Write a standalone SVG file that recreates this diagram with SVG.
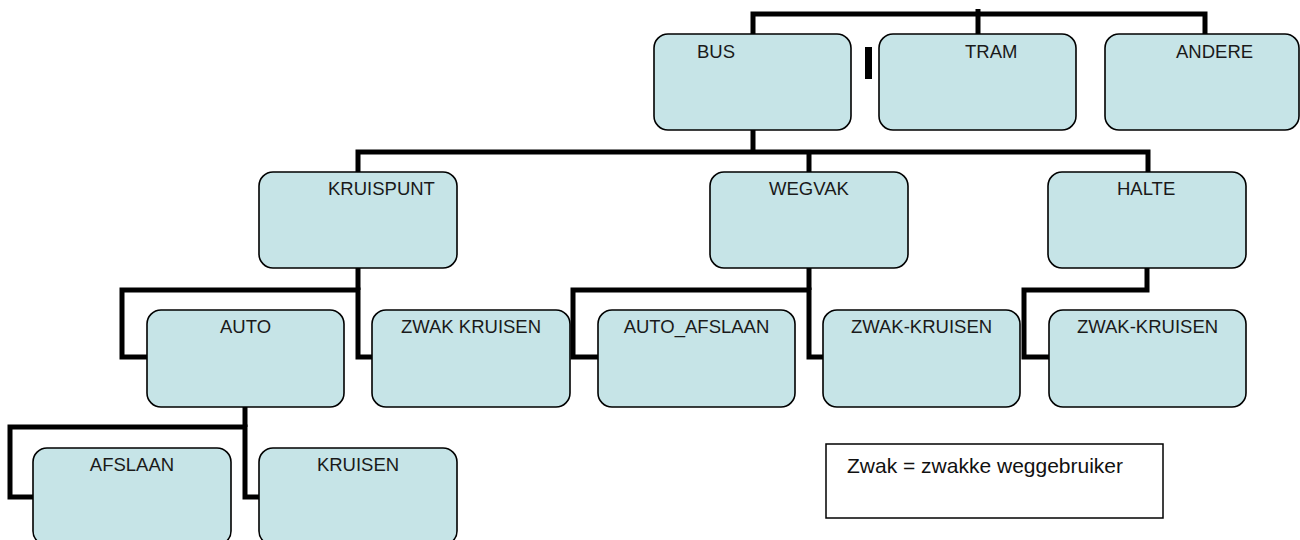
<svg xmlns="http://www.w3.org/2000/svg" width="1300" height="540" viewBox="0 0 1300 540">
  <style>
    .box { fill: #c6e4e7; stroke: #000; stroke-width: 1.6; }
    .lbl { font-family: "Liberation Sans", Arial, sans-serif; font-size: 18.5px; fill: #1a1a1a; }
    .ctr { text-anchor: middle; }
    .conn { fill: none; stroke: #000; stroke-width: 5; stroke-linejoin: miter; stroke-linecap: butt; }
    .legend { fill: #fff; stroke: #000; stroke-width: 1.5; }
    .legtxt { font-family: "Liberation Sans", Arial, sans-serif; font-size: 21px; fill: #111; }
  </style>
  <rect width="1300" height="540" fill="#fff"/>

  <g id="connectors">
    <path class="conn" d="M753,34 V14 H1205 V34"/>
    <path class="conn" d="M978,9 V34"/>
    <rect x="865" y="47" width="7" height="32" fill="#000"/>
    <path class="conn" d="M753,130 V152"/>
    <path class="conn" d="M358,172 V152 H1148 V172"/>
    <path class="conn" d="M809,152 V172"/>
    <path class="conn" d="M358,268 V290"/>
    <path class="conn" d="M147,357 H122 V290 H358 V357 H372"/>
    <path class="conn" d="M809,268 V290"/>
    <path class="conn" d="M598,357 H573 V290 H809 V357 H823"/>
    <path class="conn" d="M1147,268 V290 H1024 V357 H1049"/>
    <path class="conn" d="M245,407 V427"/>
    <path class="conn" d="M33,497 H10 V427 H245 V497 H259"/>
  </g>

  <g id="bus"><rect class="box" x="654" y="34" width="197" height="96" rx="14"/><text class="lbl" x="697" y="58">BUS</text></g>
  <g id="tram"><rect class="box" x="879" y="34" width="197" height="96" rx="14"/><text class="lbl" x="965" y="58">TRAM</text></g>
  <g id="andere"><rect class="box" x="1105" y="34" width="194" height="96" rx="14"/><text class="lbl" x="1176" y="58">ANDERE</text></g>

  <g id="kruispunt"><rect class="box" x="259" y="172" width="198" height="96" rx="14"/><text class="lbl" x="328" y="195">KRUISPUNT</text></g>
  <g id="wegvak"><rect class="box" x="710" y="172" width="198" height="96" rx="14"/><text class="lbl" x="769" y="195">WEGVAK</text></g>
  <g id="halte"><rect class="box" x="1048" y="172" width="198" height="96" rx="14"/><text class="lbl" x="1117" y="195">HALTE</text></g>

  <g id="auto"><rect class="box" x="147" y="310" width="197" height="97" rx="14"/><text class="lbl ctr" x="245.5" y="333">AUTO</text></g>
  <g id="zwak-kruisen-1"><rect class="box" x="372" y="310" width="198" height="97" rx="14"/><text class="lbl ctr" x="471" y="333">ZWAK KRUISEN</text></g>
  <g id="auto-afslaan"><rect class="box" x="598" y="310" width="197" height="97" rx="14"/><text class="lbl ctr" x="696.5" y="333">AUTO_AFSLAAN</text></g>
  <g id="zwak-kruisen-2"><rect class="box" x="823" y="310" width="197" height="97" rx="14"/><text class="lbl ctr" x="921.5" y="333">ZWAK-KRUISEN</text></g>
  <g id="zwak-kruisen-3"><rect class="box" x="1049" y="310" width="197" height="97" rx="14"/><text class="lbl ctr" x="1147.5" y="333">ZWAK-KRUISEN</text></g>

  <g id="afslaan"><rect class="box" x="33" y="448" width="198" height="97" rx="14"/><text class="lbl ctr" x="132" y="471">AFSLAAN</text></g>
  <g id="kruisen"><rect class="box" x="259" y="448" width="198" height="97" rx="14"/><text class="lbl ctr" x="358" y="471">KRUISEN</text></g>

  <g id="legend"><rect class="legend" x="826" y="444" width="337" height="74"/><text class="legtxt" x="847" y="473">Zwak = zwakke weggebruiker</text></g>
</svg>
